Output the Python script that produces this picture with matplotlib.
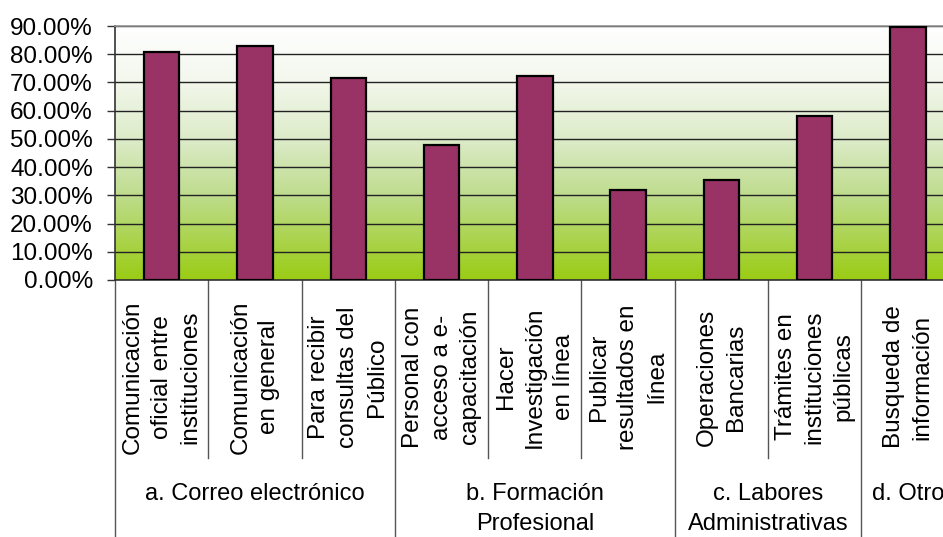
import numpy as np
import matplotlib.pyplot as plt
from matplotlib.colors import LinearSegmentedColormap

plt.rcParams['font.family'] = ['Liberation Sans', 'DejaVu Sans']

# Data
labels = [
    "Comunicación\noficial entre\ninstituciones",
    "Comunicación\nen general",
    "Para recibir\nconsultas del\nPúblico",
    "Personal con\nacceso a e-\ncapacitación",
    "Hacer\nInvestigación\nen línea",
    "Publicar\nresultados en\nlínea",
    "Operaciones\nBancarias",
    "Trámites en\ninstituciones\npúblicas",
    "Busqueda de\ninformación",
]
values = [80.7, 82.9, 71.6, 47.8, 72.3, 31.9, 35.3, 58.0, 89.8]
groups = ["a. Correo electrónico", "b. Formación\nProfesional",
          "c. Labores\nAdministrativas", "d. Otro"]
group_sizes = [3, 3, 2, 1]
yticks = [0, 10, 20, 30, 40, 50, 60, 70, 80, 90]

W, H = 943, 537
fig = plt.figure(figsize=(W / 100, H / 100), dpi=100)

# plot area in pixels
left, top, bottom, cat_w = 115, 26, 280, 93.3
n = len(values)
ax = fig.add_axes([left / W, (H - bottom) / H, n * cat_w / W, (bottom - top) / H])

x = np.arange(n)

# gradient background
cmap = LinearSegmentedColormap.from_list(
    "bg", [(0.0, "#9ACC14"), (0.33, "#BEDC8C"), (0.55, "#DCEBC8"),
           (0.8, "#F4F8EE"), (1.0, "#FFFFFF")])
grad = np.linspace(0, 1, 256).reshape(-1, 1)
ax.imshow(grad, extent=[-0.5, n - 0.5, 0, 90], origin="lower",
          aspect="auto", cmap=cmap, zorder=0)

ax.bar(x, values, width=0.38, color="#993366", edgecolor="black",
       linewidth=1.6, zorder=3)

ax.set_xlim(-0.5, n - 0.5)
ax.set_ylim(0, 90)
ax.set_yticks(yticks)
ax.set_yticklabels(["%.2f%%" % v for v in yticks])
ax.yaxis.grid(True, color="#222222", linewidth=1.0)
ax.set_axisbelow(True)
ax.set_xticks([])
ax.tick_params(axis="y", labelsize=17.5, length=6, width=1, pad=10,
               color="#333333")

ax.spines["top"].set_color("#909090")
ax.spines["right"].set_visible(False)
ax.spines["left"].set_color("#333333")
ax.spines["bottom"].set_color("#333333")
for s in ["top", "left", "bottom"]:
    ax.spines[s].set_linewidth(1.2)

tr = ax.get_xaxis_transform()
ph = bottom - top  # axes height in px

def frac(ypix):
    return -(ypix - bottom) / ph

# category labels
for i, lab in enumerate(labels):
    ax.text(i, frac(377), lab, transform=tr, rotation=90, ha="center",
            va="center", multialignment="center", fontsize=17.5,
            linespacing=1.4, clip_on=False)

# separators
edges = np.cumsum([0] + group_sizes) - 0.5
for b in np.arange(n + 1) - 0.5:
    if b in edges:
        ax.plot([b, b], [0, frac(560)], transform=tr, color="#555555",
                linewidth=1, clip_on=False)
    else:
        ax.plot([b, b], [0, frac(458)], transform=tr, color="#555555",
                linewidth=1, clip_on=False)

# group labels
for g, lab in enumerate(groups):
    c = (edges[g] + edges[g + 1]) / 2
    ax.text(c, frac(483), lab, transform=tr, ha="center", va="top",
            multialignment="center", fontsize=17, linespacing=1.5,
            clip_on=False)

fig.savefig("out.png", dpi=100)
